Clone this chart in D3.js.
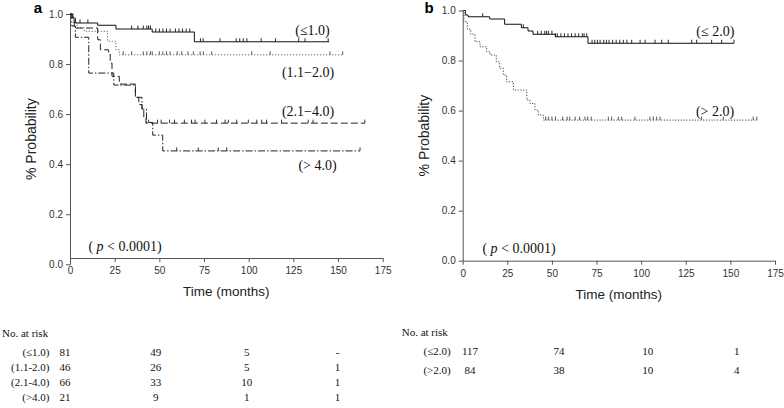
<!DOCTYPE html>
<html><head><meta charset="utf-8">
<script src="https://cdn.jsdelivr.net/npm/d3@7"></script>
<style>body{margin:0;background:#fff}svg{display:block}</style>
</head><body><svg id="c" width="784" height="408"></svg>
<script>
// ---------- data ----------
const timeTicks = [0, 25, 50, 75, 100, 125, 150, 175];
const probTicks = [0, 0.2, 0.4, 0.6, 0.8, 1.0];

// Panel a
const aLe1Time = [0, 1.5, 3, 15.5, 25.7, 46, 69.6, 145];
const aLe1Surv = [1, 0.984, 0.964, 0.955, 0.94, 0.928, 0.889, 0.889];
const aLe1Cens = [5.6, 10, 34.5, 38, 41, 43, 44, 45, 48, 50, 52, 54, 56, 59, 61, 63, 65, 67, 73, 74.5, 84, 93, 95, 97, 99, 107, 115, 128, 131.5, 144.5];

const a12Time = [0, 2, 4, 8, 21, 25.7, 27.6, 152.6];
const a12Surv = [1, 0.965, 0.945, 0.931, 0.891, 0.857, 0.837, 0.837];
const a12Cens = [29.8, 34.5, 41, 43, 45, 46, 50, 52, 54, 56, 60, 62.5, 66, 69, 72.8, 74.6, 79.3, 101.7, 112, 145.5, 152.6];

const a24Time = [0, 1, 2.4, 15.5, 17, 21.6, 22.5, 23.5, 27.6, 36.6, 38.5, 40.3, 41.3, 42.5, 165];
const a24Surv = [1, 0.985, 0.944, 0.897, 0.857, 0.84, 0.804, 0.751, 0.72, 0.667, 0.638, 0.617, 0.584, 0.564, 0.564];
const a24Cens = [44, 49, 51, 55.7, 58.5, 64, 68, 70, 75.5, 82, 86.8, 88.6, 93.3, 99.8, 104.5, 107.3, 110, 118.4, 133.3, 136, 165];

const aGt4Time = [0, 1, 3, 10.5, 24.5, 36.6, 40.3, 42.8, 46.3, 51.9, 162.3];
const aGt4Surv = [1, 0.952, 0.907, 0.764, 0.716, 0.667, 0.62, 0.567, 0.516, 0.453, 0.453];
const aGt4Cens = [59.7, 71.8, 83, 87.7, 162.3];

// Panel b
const bLe2Time = [0, 1.5, 3, 15.1, 23.5, 32.9, 36.6, 39.4, 51.9, 70.2, 152];
const bLe2Surv = [1, 0.982, 0.975, 0.966, 0.945, 0.931, 0.918, 0.905, 0.895, 0.869, 0.869];
const bLe2Cens = [11.2, 34, 42, 44, 46, 47, 48, 50, 52, 53, 55, 57, 59, 61, 63, 65, 67, 68, 69.5, 72.5, 74, 75.5, 77, 79, 80.5, 82, 84, 86, 88, 90, 92, 94.7, 99.4, 102.2, 107.8, 111.5, 115.2, 128.3, 131.1, 139.5, 145.1, 152];

const bGt2Time = [0, 0.7, 2.6, 4.5, 6.9, 9.7, 13.4, 15.3, 18.8, 20.7, 22.8, 24.6, 28.4, 35.9, 37.7, 40.5, 42.4, 45.2, 165];
const bGt2Surv = [1, 0.955, 0.925, 0.905, 0.875, 0.855, 0.835, 0.822, 0.795, 0.769, 0.742, 0.715, 0.682, 0.642, 0.628, 0.602, 0.582, 0.562, 0.562];
const bGt2Cens = [46.5, 48, 50, 52, 56, 58.5, 60, 63, 65.5, 68.5, 70, 72, 81.6, 83.5, 87.2, 89.1, 96.5, 104.9, 106.8, 108.7, 110.6, 133.9, 146, 162.8, 164.8];

// Risk tables
const riskTimes = [0, 50, 100, 150];
const riskLabelsA = ["(≤1.0)", "(1.1-2.0)", "(2.1-4.0)", "(>4.0)"];
const riskA = [[81, 49, 5, "-"], [46, 26, 5, 1], [66, 33, 10, 1], [21, 9, 1, 1]];
const riskLabelsB = ["(≤2.0)", "(>2.0)"];
const riskB = [[117, 74, 10, 1], [84, 38, 10, 4]];

// ---------- drawing ----------
const svg = d3.select("#c");
const SANS = "'Liberation Sans', Arial, sans-serif";
const SERIF = "'Liberation Serif', 'Times New Roman', serif";
const AX = "#555";

function survAt(times, surv, t) {
  let v = surv[0];
  for (let i = 0; i < times.length; i++) if (times[i] <= t) v = surv[i];
  return v;
}

function panel(cfg) {
  const g = svg.append("g");
  const x = d3.scaleLinear().domain([0, 175]).range([cfg.x0, cfg.x1]);
  const y = d3.scaleLinear().domain([0, 1]).range([cfg.yb, cfg.yt]);

  const yAxis = g.append("g").attr("transform", `translate(${cfg.x0},0)`)
    .call(d3.axisLeft(y).tickValues(probTicks).tickFormat(d3.format(".1f")).tickSize(4).tickSizeOuter(0).tickPadding(3));
  const xAxis = g.append("g").attr("transform", `translate(0,${cfg.xAxisY})`)
    .call(d3.axisBottom(x).tickValues(timeTicks).tickSize(4).tickSizeOuter(0).tickPadding(5));
  [yAxis, xAxis].forEach(a => {
    a.selectAll("path,line").attr("stroke", AX).attr("stroke-width", 1);
    a.selectAll("text").attr("fill", "#333").style("font-family", SANS).style("font-size", "10px");
  });

  const line = d3.line().x(d => x(d[0])).y(d => y(d[1])).curve(d3.curveStepAfter);
  cfg.series.forEach(s => {
    const pts = s.time.map((t, i) => [t, s.surv[i]]);
    g.append("path").attr("d", line(pts)).attr("fill", "none")
      .attr("stroke", s.color).attr("stroke-width", 1).attr("stroke-dasharray", s.dash);
    g.selectAll(null).data(s.cens).enter().append("line")
      .attr("x1", d => x(d)).attr("x2", d => x(d))
      .attr("y1", d => y(survAt(s.time, s.surv, d))).attr("y2", d => y(survAt(s.time, s.surv, d)) - 3.5)
      .attr("stroke", s.color).attr("stroke-width", 0.9);
    g.append("text").attr("x", s.lx).attr("y", s.ly).attr("dy", "0.35em").attr("text-anchor", "middle")
      .style("font-family", SERIF).style("font-size", "14px").attr("fill", "#111").text(s.label);
  });

  g.append("text").attr("x", cfg.px).attr("y", cfg.py).attr("dy", "0.35em").attr("text-anchor", "middle")
    .style("font-family", SERIF).style("font-size", "14px").attr("fill", "#111")
    .call(t => { t.append("tspan").text("( "); t.append("tspan").style("font-style", "italic").text("p");
                 t.append("tspan").text(" < 0.0001)"); });

  g.append("text").attr("x", (cfg.x0 + cfg.x1) / 2).attr("y", cfg.xAxisY + 38).attr("text-anchor", "middle")
    .style("font-family", SANS).style("font-size", "13.5px").attr("fill", "#222").text("Time (months)");
  g.append("text").attr("transform", `translate(${cfg.ylx},${(cfg.yt + cfg.yb) / 2}) rotate(-90)`)
    .attr("dy", "0.35em").attr("text-anchor", "middle")
    .style("font-family", SANS).style("font-size", "14px").attr("fill", "#222").text("% Probability");
  g.append("text").attr("x", cfg.tx).attr("y", cfg.ty).attr("text-anchor", "middle")
    .style("font-family", SANS).style("font-size", "15px").style("font-weight", "bold").attr("fill", "#000").text(cfg.tag);

  // risk table
  const tx = d3.scaleLinear().domain([0, 150]).range(cfg.tRange);
  const tg = svg.append("g").style("font-family", SERIF).style("font-size", "11px").attr("fill", "#111");
  tg.append("text").attr("x", cfg.nx).attr("y", cfg.ny).attr("dy", "0.35em").text("No. at risk");
  cfg.rLabels.forEach((lab, i) => {
    const yy = cfg.rowY0 + i * cfg.rowDy;
    tg.append("text").attr("x", cfg.labR).attr("y", yy).attr("dy", "0.35em").attr("text-anchor", "end").text(lab);
    cfg.rows[i].forEach((v, j) => {
      tg.append("text").attr("x", tx(riskTimes[j])).attr("y", yy).attr("dy", "0.35em").attr("text-anchor", "middle").text(v);
    });
  });
}

panel({
  x0: 70, x1: 382.7, yt: 14, yb: 264.3, xAxisY: 258, tag: "a", tx: 38, ty: 13, ylx: 31,
  px: 125, py: 246,
  series: [
    { time: aLe1Time, surv: aLe1Surv, cens: aLe1Cens, color: "#111", dash: null, label: "(≤1.0)", lx: 312.5, ly: 30 },
    { time: a12Time, surv: a12Surv, cens: a12Cens, color: "#444", dash: "1,2", label: "(1.1−2.0)", lx: 308, ly: 71.7 },
    { time: a24Time, surv: a24Surv, cens: a24Cens, color: "#222", dash: "7,3", label: "(2.1−4.0)", lx: 308, ly: 111.3 },
    { time: aGt4Time, surv: aGt4Surv, cens: aGt4Cens, color: "#222", dash: "7,2,1.5,2", label: "(> 4.0)", lx: 317.5, ly: 164.7 }
  ],
  tRange: [65, 337.5], nx: 2, ny: 333, labR: 49.5, rowY0: 352.3, rowDy: 15,
  rLabels: riskLabelsA, rows: riskA
});

panel({
  x0: 462.7, x1: 775, yt: 10.5, yb: 260.7, xAxisY: 260.7, tag: "b", tx: 429, ty: 13, ylx: 424,
  px: 519, py: 248.3,
  series: [
    { time: bLe2Time, surv: bLe2Surv, cens: bLe2Cens, color: "#111", dash: null, label: "(≤ 2.0)", lx: 715.3, ly: 30.8 },
    { time: bGt2Time, surv: bGt2Surv, cens: bGt2Cens, color: "#444", dash: "1.2,1.6", label: "(> 2.0)", lx: 715, ly: 111.3 }
  ],
  tRange: [470, 736.7], nx: 401.7, ny: 331.7, labR: 450.7, rowY0: 350.8, rowDy: 19.7,
  rLabels: riskLabelsB, rows: riskB
});
</script>
</body></html>
